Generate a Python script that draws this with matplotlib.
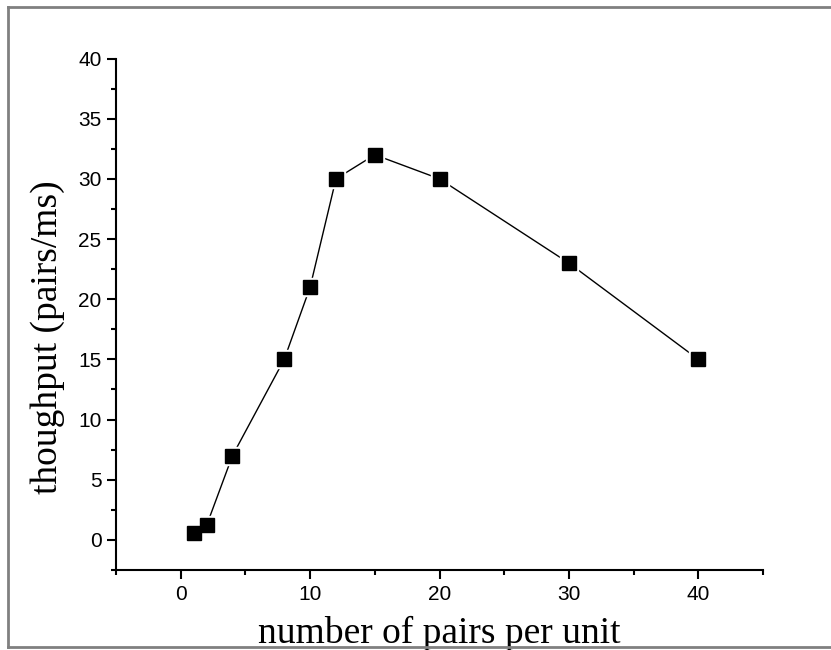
import matplotlib
matplotlib.use("Agg")
import matplotlib.pyplot as plt
from matplotlib.lines import Line2D
from matplotlib.ticker import MultipleLocator

# data
pairs_per_unit = [1, 2, 4, 8, 10, 12, 15, 20, 30, 40]
throughput = [0.6, 1.2, 7, 15, 21, 30, 32, 30, 23, 15]

x_ticks = [0, 10, 20, 30, 40]
y_ticks = [0, 5, 10, 15, 20, 25, 30, 35, 40]

fig = plt.figure(figsize=(8.31, 6.5), dpi=100)
ax = fig.add_axes([116 / 831, 1 - 570 / 650, (763 - 116) / 831, (570 - 58.5) / 650])

# line, then a white halo under the markers to make the small gaps
ax.plot(pairs_per_unit, throughput, color="black", lw=1.0, zorder=2)
ax.plot(pairs_per_unit, throughput, ls="none", marker="s", ms=13.5,
        mfc="white", mec="white", zorder=3)
ax.plot(pairs_per_unit, throughput, ls="none", marker="s", ms=9.8,
        mfc="black", mec="black", zorder=4)

ax.set_xlim(-5, 45)
ax.set_ylim(-2.5, 40)
ax.set_xticks(x_ticks)
ax.set_yticks(y_ticks)
ax.xaxis.set_minor_locator(MultipleLocator(5))
ax.yaxis.set_minor_locator(MultipleLocator(2.5))

for s in ["top", "right"]:
    ax.spines[s].set_visible(False)
for s in ["left", "bottom"]:
    ax.spines[s].set_linewidth(1.5)

ax.tick_params(which="major", direction="out", length=6.5, width=1.5,
               labelsize=15, pad=4)
ax.tick_params(which="minor", direction="out", length=3.8, width=1.5)
for lab in ax.get_xticklabels() + ax.get_yticklabels():
    lab.set_fontfamily("Liberation Sans")

ax.set_xlabel("number of pairs per unit", family="Liberation Serif",
              fontsize=27, labelpad=8.5)
ax.set_ylabel("thoughput (pairs/ms)", family="Liberation Serif",
              fontsize=27)
ax.yaxis.set_label_coords(-0.079, 0.4555)

# gray frame (left, top, bottom) like the exported picture
frame = dict(color="#808080", lw=2, transform=fig.transFigure)
fig.add_artist(Line2D([8 / 831, 8 / 831], [1 - 6.5 / 650, 1 - 647 / 650], **frame))
fig.add_artist(Line2D([8 / 831, 1], [1 - 6.5 / 650, 1 - 6.5 / 650], **frame))
fig.add_artist(Line2D([8 / 831, 1], [1 - 647 / 650, 1 - 647 / 650], **frame))

fig.savefig("out.png", dpi=100)
